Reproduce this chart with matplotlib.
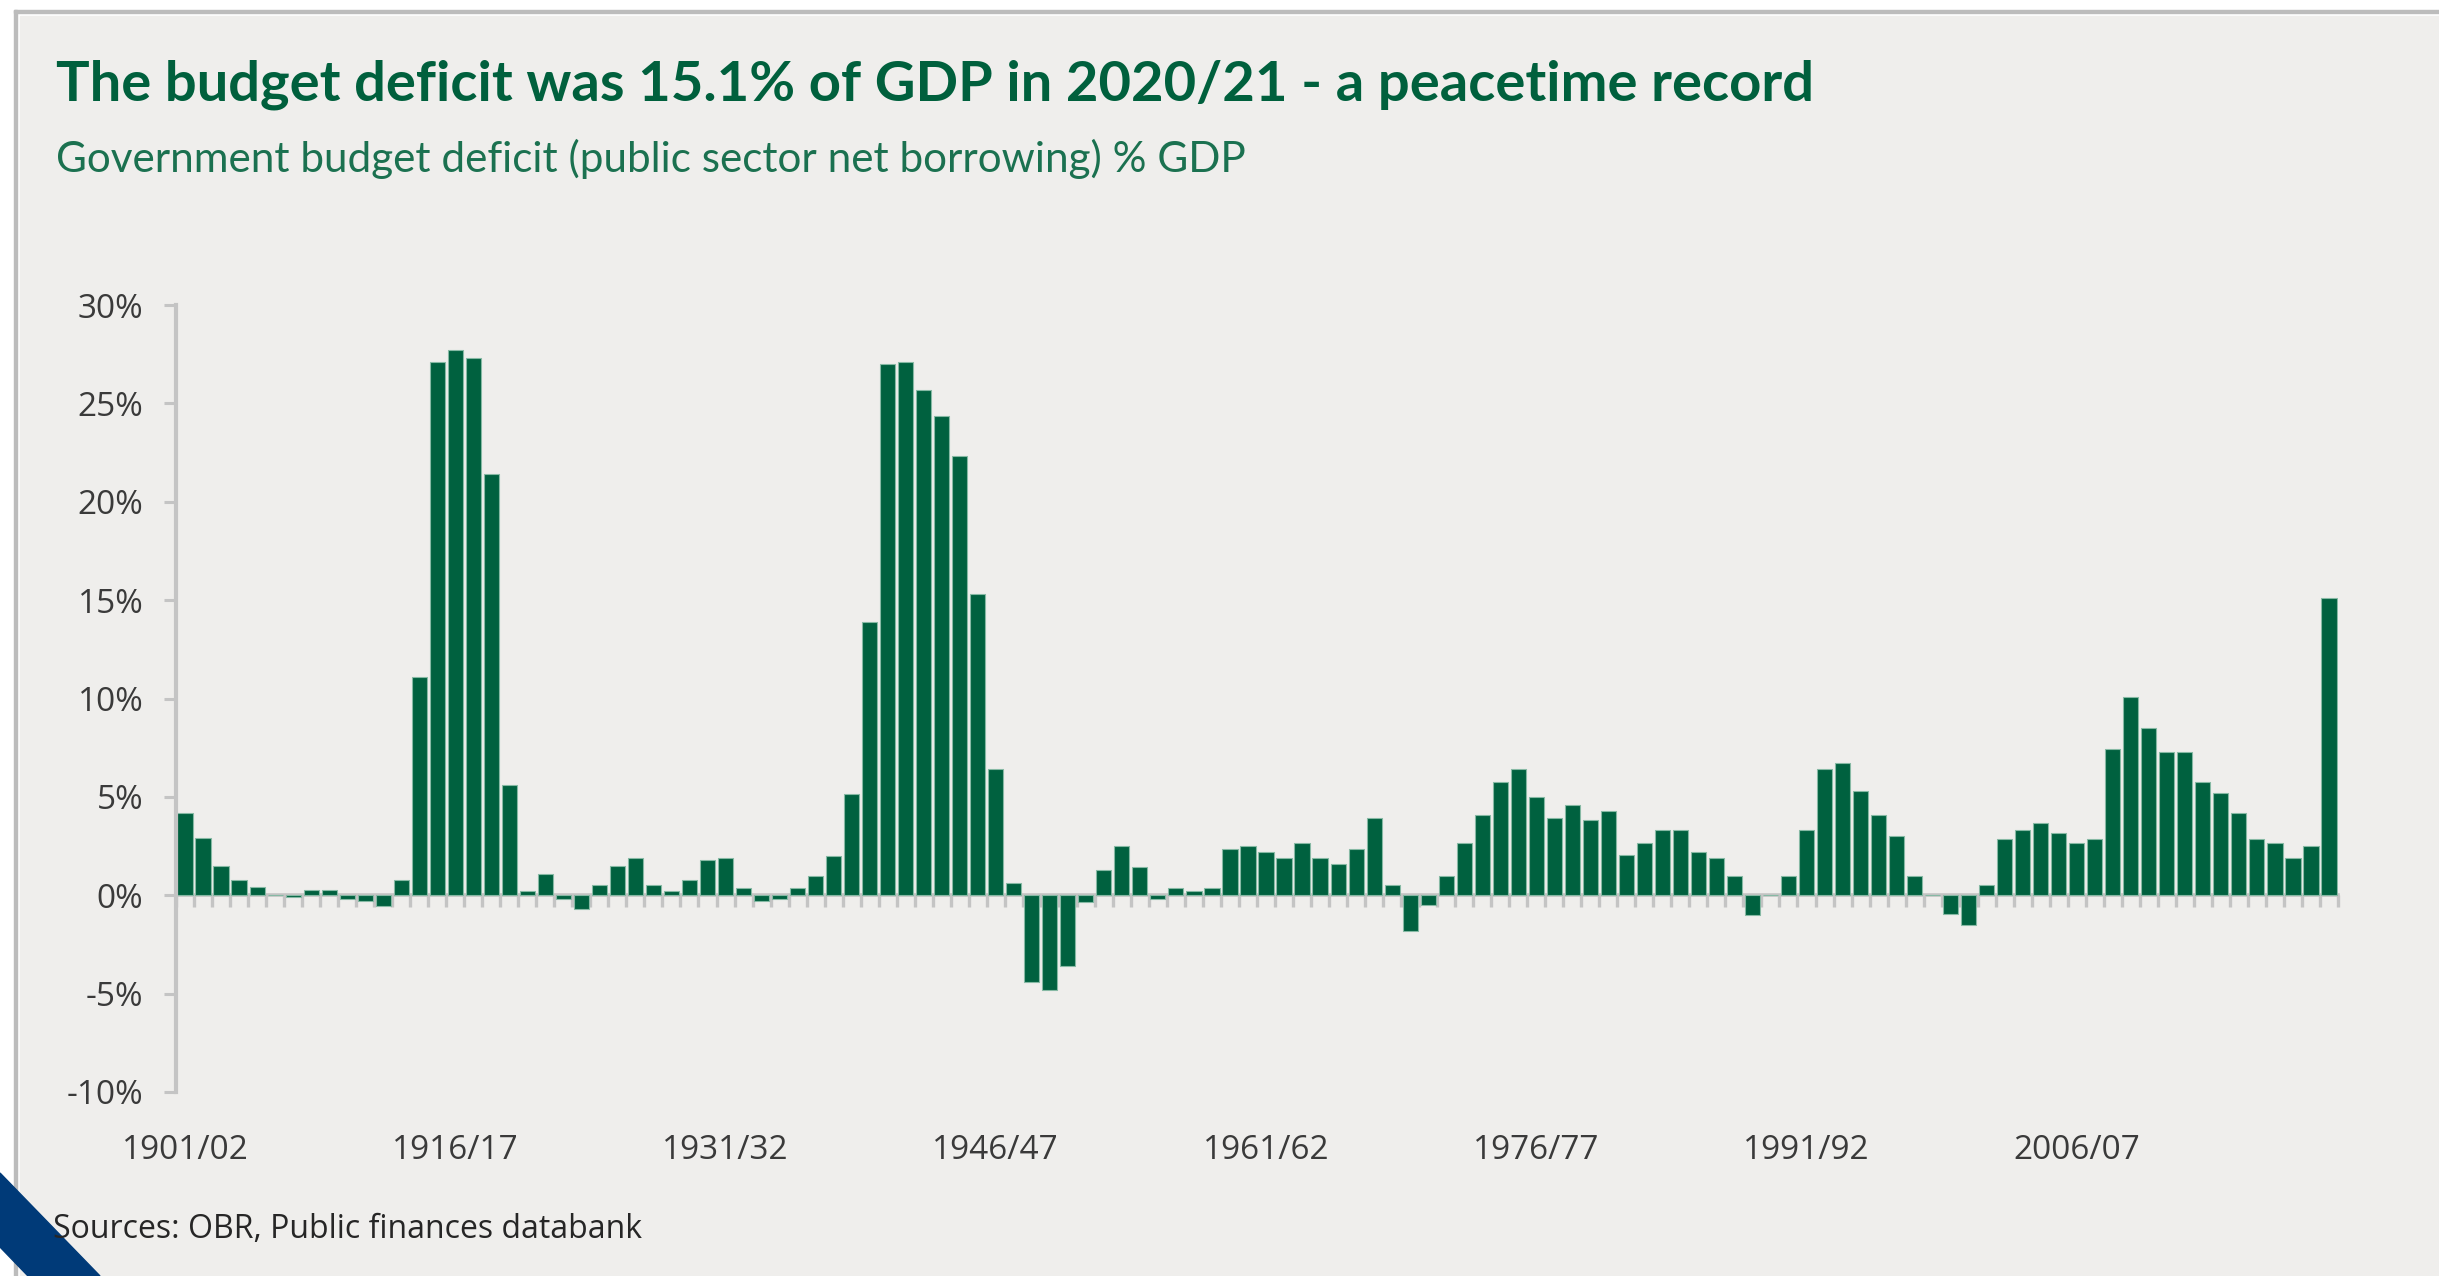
import numpy as np
import matplotlib
matplotlib.use("Agg")
import matplotlib.pyplot as plt
from matplotlib.patches import Rectangle, Polygon

# Public sector net borrowing, % of GDP, 1901/02 .. 2020/21
first_year = 1901
deficit = [
    4.2, 2.9, 1.5, 0.8, 0.4, 0.0, -0.1, 0.25, 0.25, -0.2,
    -0.3, -0.55, 0.8, 11.1, 27.1, 27.7, 27.3, 21.4, 5.6, 0.2,
    1.1, -0.2, -0.7, 0.5, 1.5, 1.9, 0.5, 0.2, 0.8, 1.8,
    1.9, 0.35, -0.3, -0.2, 0.35, 1.0, 2.0, 5.15, 13.9, 27.0,
    27.1, 25.7, 24.35, 22.3, 15.3, 6.4, 0.63, -4.4, -4.8, -3.6,
    -0.35, 1.3, 2.5, 1.43, -0.2, 0.35, 0.2, 0.35, 2.35, 2.5,
    2.2, 1.9, 2.65, 1.9, 1.6, 2.35, 3.95, 0.5, -1.8, -0.5,
    1.0, 2.65, 4.1, 5.75, 6.4, 5.0, 3.95, 4.6, 3.8, 4.3,
    2.05, 2.65, 3.3, 3.3, 2.2, 1.9, 1.0, -1.0, 0.0, 1.0,
    3.3, 6.4, 6.7, 5.3, 4.1, 3.0, 1.0, 0.0, -0.95, -1.5,
    0.5, 2.85, 3.3, 3.65, 3.15, 2.65, 2.85, 7.45, 10.1, 8.5,
    7.3, 7.3, 5.75, 5.2, 4.2, 2.85, 2.65, 1.9, 2.5, 15.1,
]
years = [f"{y}/{(y + 1) % 100:02d}" for y in range(first_year, first_year + len(deficit))]
label_years = ["1901/02", "1916/17", "1931/32", "1946/47",
               "1961/62", "1976/77", "1991/92", "2006/07"]
y_ticks = [-10, -5, 0, 5, 10, 15, 20, 25, 30]
y_labels = [f"{v}%" for v in y_ticks]

title = "The budget deficit was 15.1% of GDP in 2020/21 - a peacetime record"
subtitle = "Government budget deficit (public sector net borrowing) % GDP"
source = "Sources: OBR, Public finances databank"

green = "#00613f"
grey_line = "#c4c4c4"
text_grey = "#3a3a3a"
panel = "#efeeec"

W, H = 2439, 1276
fig = plt.figure(figsize=(W / 100, H / 100), dpi=100, facecolor="white")

# panel frame (pixel coords from top-left converted to figure fraction)
def px(x, y):
    return x / W, 1 - y / H

fig.patches.append(Rectangle(px(20, H), (W - 20) / W, (H - 16) / H,
                             transform=fig.transFigure, color=panel, zorder=-3))
fig.patches.append(Rectangle(px(14, 13), (W - 14) / W, 3 / H,
                             transform=fig.transFigure, color="#bcbcbc", zorder=-2))
fig.patches.append(Rectangle(px(14, H), 3 / W, (H - 10) / H,
                             transform=fig.transFigure, color="#bcbcbc", zorder=-2))
fig.patches.append(Polygon([px(0, 1173), px(100, H), px(28, H), px(0, 1247)],
                           closed=True, transform=fig.transFigure,
                           color="#003a78", zorder=1))

ax = fig.add_axes([176 / W, 1 - 1092 / H, (2338 - 176) / W, (1092 - 305) / H])
ax.set_facecolor("none")

x = np.arange(len(deficit))
ax.bar(x, deficit, width=0.84, color=green, edgecolor="#86b9a4",
       linewidth=0.8, zorder=2)

ax.set_xlim(-0.5, len(deficit) - 0.5)
ax.set_ylim(-10, 30)

# y axis
ax.set_yticks(y_ticks, y_labels)
ax.tick_params(axis="y", length=8.5, width=2.2, color=grey_line, pad=15,
               labelsize=24, labelcolor=text_grey)
for lab in ax.get_yticklabels():
    lab.set_fontfamily("Open Sans")
for s in ["top", "right", "bottom"]:
    ax.spines[s].set_visible(False)
ax.spines["left"].set_color(grey_line)
ax.spines["left"].set_linewidth(3)

# x labels at the bottom of the plot
label_pos = [years.index(lbl) for lbl in label_years]
ax.set_xticks(label_pos, label_years)
ax.tick_params(axis="x", length=0, pad=30.5, labelsize=24, labelcolor=text_grey)
for lab in ax.get_xticklabels():
    lab.set_fontfamily("Open Sans")

# zero line with ticks between the bars
zero_axis = ax.secondary_xaxis(0, transform=ax.transData)
zero_axis.set_xticks(np.arange(len(deficit) + 1) - 0.5)
zero_axis.tick_params(axis="x", length=8.5, width=2.4, color=grey_line,
                      labelbottom=False)
zero_axis.spines["bottom"].set_color(grey_line)
zero_axis.spines["bottom"].set_linewidth(2.6)

# texts
fig.text(*px(56, 100), title, fontsize=40.4, fontweight="bold", color="#00603d",
         family="Lato", va="baseline", ha="left")
fig.text(*px(56, 172), subtitle, fontsize=30.4, color="#1b7150",
         family="Lato", va="baseline", ha="left")
fig.text(*px(53, 1238), source, fontsize=23, color="#262626",
         family="Open Sans", va="baseline", ha="left", zorder=3)

fig.savefig("out.png", dpi=100, facecolor="white")
